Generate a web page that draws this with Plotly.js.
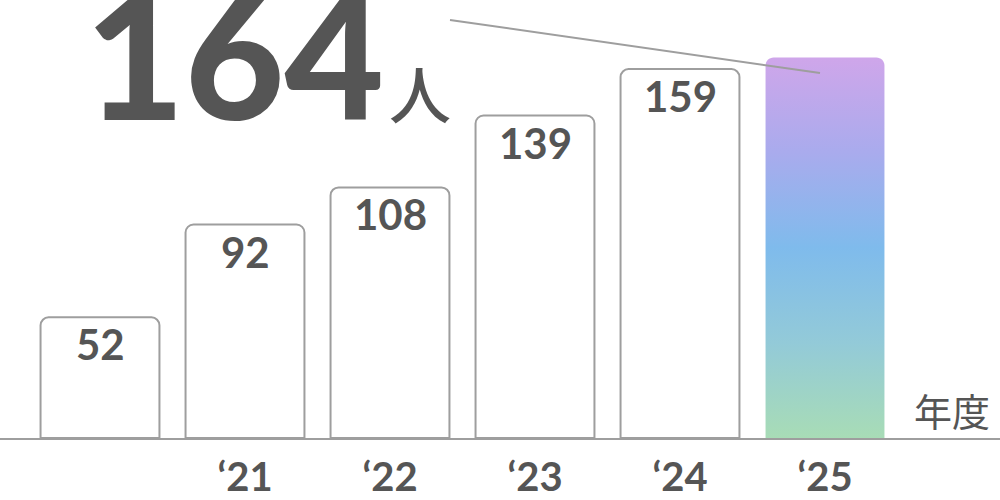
<!DOCTYPE html>
<html>
<head>
<meta charset="utf-8">
<script src="https://cdn.plot.ly/plotly-3.0.1.min.js"></script>
<style>html,body{margin:0;padding:0;background:#fff;}#chart{width:1000px;height:500px;}</style>
</head>
<body>
<div id="chart"></div>
<script>
// Data
const years = ['2020', '2021', '2022', '2023', '2024', '2025'];
const tickLabels = ['', '\u201821', '\u201822', '\u201823', '\u201824', '\u201825'];
const members = [52, 92, 108, 139, 159, 164];
const headlineUnit = '人';
const yearUnit = '年度';

const idx = years.map((_, i) => i);
const last = members.length - 1;
const halfW = 0.41;
const gray = '#9e9e9e';
const textGray = '#555555';
const pxPerX = 145, pxPerY = 2.32;

const barTrace = {
  type: 'bar',
  x: idx,
  y: members,
  width: 2 * halfW,
  marker: {
    color: members.map((_, i) => i === last ? 'rgba(0,0,0,0)' : '#ffffff'),
    line: { color: members.map((_, i) => i === last ? 'rgba(0,0,0,0)' : gray), width: 2 }
  },
  hoverinfo: 'skip'
};

// rounded-top outline for the highlighted bar, derived from its value
const rPx = 8, rx = rPx / pxPerX, ry = rPx / pxPerY;
const gx = [], gy = [];
const barTop = members[last], xl = last - halfW, xr = last + halfW;
gx.push(xl); gy.push(0);
for (let k = 0; k <= 8; k++) {
  const a = Math.PI - (Math.PI / 2) * (k / 8);
  gx.push(xl + rx + rx * Math.cos(a)); gy.push(barTop - ry + ry * Math.sin(a));
}
for (let k = 0; k <= 8; k++) {
  const a = Math.PI / 2 - (Math.PI / 2) * (k / 8);
  gx.push(xr - rx + rx * Math.cos(a)); gy.push(barTop - ry + ry * Math.sin(a));
}
gx.push(xr); gy.push(0); gx.push(xl); gy.push(0);

const gradTrace = {
  type: 'scatter',
  mode: 'none',
  x: gx,
  y: gy,
  fill: 'toself',
  fillgradient: {
    type: 'vertical',
    colorscale: [[0, '#a8dcb6'], [0.25, '#93cad8'], [0.5, '#7fbbec'], [0.75, '#a9abed'], [1, '#cfa6ea']]
  },
  hoverinfo: 'skip'
};

const annotations = [];
members.forEach((v, i) => {
  if (i === last) return;
  annotations.push({
    x: i, y: v, xref: 'x', yref: 'y',
    text: String(v), showarrow: false,
    yanchor: 'middle', yshift: -27,
    font: { family: 'Lato', size: 42, color: textGray, weight: 700 }
  });
});
annotations.push({
  xref: 'paper', yref: 'paper', x: 0.083, y: 0.878, xanchor: 'left', yanchor: 'middle',
  text: String(members[last]), showarrow: false,
  font: { family: 'Lato', size: 172, color: textGray, weight: 900 }
});
annotations.push({
  xref: 'paper', yref: 'paper', x: 0.42, y: 0.79, xanchor: 'center', yanchor: 'middle',
  text: headlineUnit, showarrow: false,
  font: { family: 'Noto Sans CJK JP', size: 62, color: textGray, weight: 500 }
});
annotations.push({
  xref: 'paper', yref: 'paper', x: 0.992, y: 0.066, xanchor: 'right', yanchor: 'middle',
  text: yearUnit, showarrow: false,
  font: { family: 'Noto Sans CJK JP', size: 38, color: textGray, weight: 400 }
});

const layout = {
  width: 1000, height: 500,
  margin: { l: 0, r: 0, t: 0, b: 62 },
  paper_bgcolor: '#ffffff', plot_bgcolor: '#ffffff',
  showlegend: false,
  barcornerradius: rPx,
  xaxis: {
    range: [-100 / pxPerX, 900 / pxPerX],
    tickmode: 'array', tickvals: idx, ticktext: tickLabels,
    tickfont: { family: 'Lato', size: 40, color: textGray, weight: 700 },
    showgrid: false, zeroline: false,
    showline: true, linecolor: gray, linewidth: 2,
    ticks: '', ticklabelstandoff: 3, fixedrange: true
  },
  yaxis: {
    range: [0, 438 / pxPerY],
    showgrid: false, zeroline: false, showline: false, showticklabels: false, ticks: '',
    fixedrange: true
  },
  shapes: [{
    type: 'line', xref: 'paper', yref: 'paper',
    x0: 0.45, y0: 1 - 20 / 438, x1: 0.82, y1: 1 - 73 / 438,
    line: { color: gray, width: 2 }
  }],
  annotations: annotations
};

Plotly.newPlot('chart', [barTrace, gradTrace], layout, { displayModeBar: false, staticPlot: true });
</script>
</body>
</html>
